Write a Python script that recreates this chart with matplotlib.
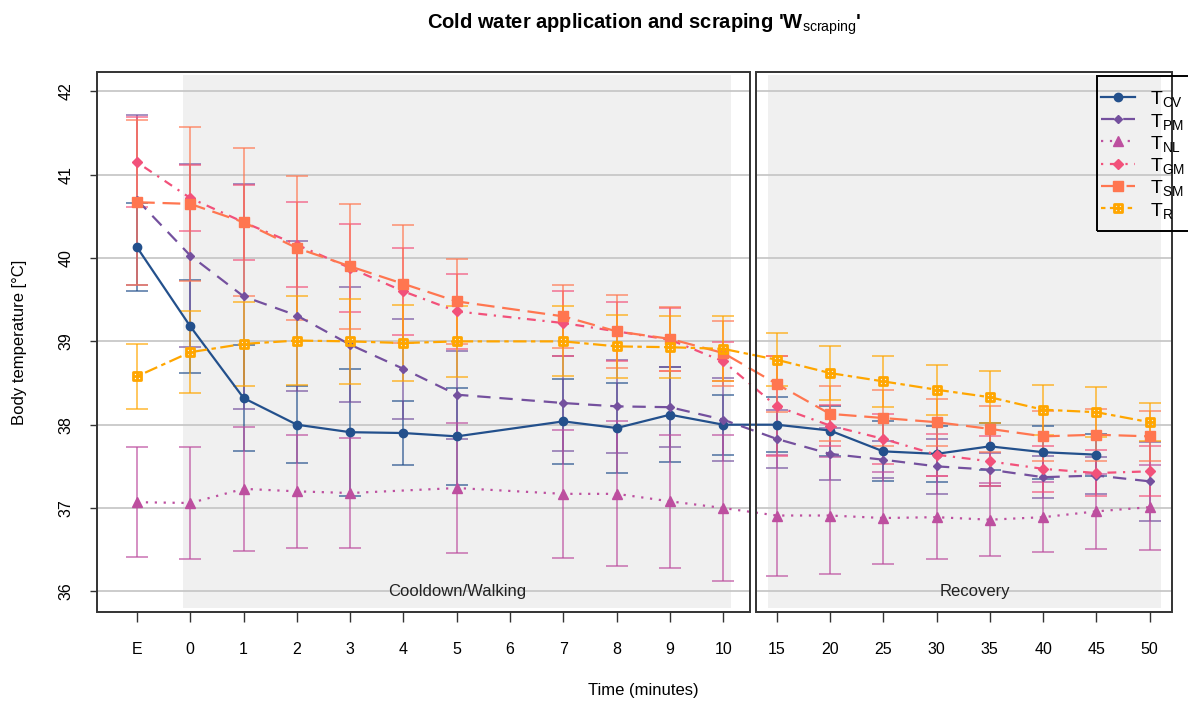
import numpy as np
import matplotlib
matplotlib.use('Agg')
import matplotlib.pyplot as plt
from matplotlib.path import Path
from matplotlib.patches import Rectangle
from matplotlib.lines import Line2D

plt.rcParams['font.family'] = ['Liberation Sans', 'DejaVu Sans']
plt.rcParams['mathtext.fontset'] = 'custom'
plt.rcParams['mathtext.rm'] = 'Liberation Sans'
plt.rcParams['mathtext.it'] = 'Liberation Sans'
plt.rcParams['mathtext.bf'] = 'Liberation Sans:bold'

nan = np.nan

# time points (categorical positions)
time_labels = ['E', '0', '1', '2', '3', '4', '5', '6', '7', '8', '9', '10',
               '15', '20', '25', '30', '35', '40', '45', '50']

# means and CI half widths per site
t_cv = [40.13, 39.18, 38.32, 38.00, 37.91, 37.90, 37.86, nan, 38.04, 37.96, 38.12, 38.00,
        38.00, 37.93, 37.68, 37.65, 37.74, 37.67, 37.64, nan]
e_cv = [0.53, 0.56, 0.64, 0.46, 0.76, 0.38, 0.58, nan, 0.51, 0.54, 0.57, 0.36,
        0.33, 0.30, 0.36, 0.34, 0.28, 0.32, 0.25, nan]

t_pm = [40.70, 40.03, 39.54, 39.31, 38.96, 38.67, 38.36, nan, 38.26, 38.22, 38.21, 38.06,
        37.83, 37.65, 37.58, 37.50, 37.46, 37.37, 37.39, 37.32]
e_pm = [1.02, 1.10, 1.35, 0.90, 0.69, 0.60, 0.53, nan, 0.57, 0.56, 0.48, 0.50,
        0.35, 0.31, 0.22, 0.33, 0.20, 0.25, 0.22, 0.47]

t_nl = [37.07, 37.06, 37.23, 37.20, 37.18, nan, 37.24, nan, 37.17, 37.17, 37.08, 37.00,
        36.91, 36.91, 36.88, 36.89, 36.86, 36.89, 36.96, 37.01]
e_nl = [0.66, 0.67, 0.74, 0.68, 0.66, nan, 0.78, nan, 0.77, 0.87, 0.80, 0.88,
        0.73, 0.70, 0.55, 0.50, 0.44, 0.42, 0.45, 0.51]

t_gm = [41.15, 40.72, 40.43, 40.16, 39.88, 39.60, 39.36, nan, 39.22, 39.12, 39.02, 38.76,
        38.22, 37.99, 37.83, 37.64, 37.56, 37.47, 37.42, 37.44]
e_gm = [0.54, 0.40, 0.45, 0.51, 0.53, 0.52, 0.45, nan, 0.39, 0.35, 0.38, 0.23,
        0.60, 0.25, 0.30, 0.25, 0.30, 0.28, 0.28, 0.30]

t_sm = [40.67, 40.65, 40.43, 40.12, 39.90, 39.69, 39.48, nan, 39.30, 39.12, 39.03, 38.86,
        38.49, 38.13, 38.08, 38.03, 37.95, 37.86, 37.88, 37.86]
e_sm = [0.99, 0.92, 0.89, 0.86, 0.75, 0.71, 0.51, nan, 0.38, 0.44, 0.38, 0.39,
        0.34, 0.33, 0.34, 0.28, 0.28, 0.30, 0.31, 0.30]

t_r = [38.58, 38.87, 38.97, 39.01, 39.00, 38.98, 39.00, nan, 39.00, 38.94, 38.93, 38.91,
       38.78, 38.62, 38.52, 38.42, 38.33, 38.18, 38.15, 38.03]
e_r = [0.39, 0.49, 0.50, 0.53, 0.51, 0.46, 0.43, nan, 0.42, 0.38, 0.37, 0.39,
       0.32, 0.32, 0.31, 0.30, 0.31, 0.30, 0.30, 0.23]

names = ['CV', 'PM', 'NL', 'GM', 'SM', 'R']
means = [t_cv, t_pm, t_nl, t_gm, t_sm, t_r]
errs = [e_cv, e_pm, e_nl, e_gm, e_sm, e_r]

# square with a plus inside (R pch 12)
box_plus = Path([(-1, -1), (1, -1), (1, 1), (-1, 1), (-1, -1), (0, -1), (0, 1), (-1, 0), (1, 0)],
                [Path.MOVETO, Path.LINETO, Path.LINETO, Path.LINETO, Path.CLOSEPOLY,
                 Path.MOVETO, Path.LINETO, Path.MOVETO, Path.LINETO])

colors = ['#23508c', '#74509e', '#bd4f9f', '#f2517a', '#ff7650', '#ffa600']
styles = ['-', (0, (6, 4)), (0, (1, 3)), (0, (1, 3, 4, 3)), (0, (8, 3.5)), (0, (2, 2, 6, 2))]
markers = ['o', 'D', '^', 'D', 's', box_plus]
msizes = [6, 4, 6.5, 5.5, 6.5, 5.5]

W, H = 1188, 705
fig = plt.figure(figsize=(W / 100, H / 100), dpi=100)
ax = fig.add_axes([97 / W, 1 - 612 / H, (1172 - 97) / W, (612 - 72) / H])

x0, x1 = -0.75, 19.418
y0, y1 = 35.752, 42.233
ax.set_xlim(x0, x1)
ax.set_ylim(y0, y1)
for s in ax.spines.values():
    s.set_visible(False)

# shaded phases
ax.add_patch(Rectangle((0.857, 35.804), 11.14 - 0.857, 42.199 - 35.804, fc='#f0f0f0', ec='none', zorder=0))
ax.add_patch(Rectangle((11.83, 35.804), 19.22 - 11.83, 42.199 - 35.804, fc='#f0f0f0', ec='none', zorder=0))

# grid lines inside each box
split_l, split_r = 11.50, 11.608
for g in range(36, 43):
    ax.plot([x0, split_l], [g, g], color='#c4c4c4', lw=1.2, zorder=0.5)
    ax.plot([split_r, x1], [g, g], color='#c4c4c4', lw=1.2, zorder=0.5)

# two framed panels
ax.add_patch(Rectangle((x0, y0), split_l - x0, y1 - y0, fill=False, ec='#333333', lw=1.4, clip_on=False, zorder=5))
ax.add_patch(Rectangle((split_r, y0), x1 - split_r, y1 - y0, fill=False, ec='#333333', lw=1.4, clip_on=False, zorder=5))

x = np.arange(len(time_labels))
for m, e, c in zip(means, errs, colors):
    m = np.array(m)
    e = np.array(e)
    ok = ~np.isnan(m)
    ax.errorbar(x[ok], m[ok], yerr=e[ok], fmt='none', ecolor=c, alpha=0.8,
                elinewidth=1.1, capsize=8, capthick=1.1, zorder=2)

for m, c, ls, mk, ms in zip(means, colors, styles, markers, msizes):
    m = np.array(m)
    ok = ~np.isnan(m)
    if mk is box_plus:
        ax.plot(x[ok], m[ok], color=c, ls=ls, lw=1.6, marker=mk, ms=ms, mfc='none',
                mec=c, mew=2, zorder=3)
    else:
        ax.plot(x[ok], m[ok], color=c, ls=ls, lw=1.6, marker=mk, ms=ms, mfc=c, mec=c, zorder=3)

ax.set_xticks(x)
ax.set_xticklabels(time_labels, fontsize=11.5)
ax.set_yticks(range(36, 43))
ax.set_yticklabels([str(v) for v in range(36, 43)], fontsize=11.5, rotation=90, va='center')
ax.tick_params(axis='x', length=7.5, width=1, color='#333333', pad=14)
ax.tick_params(axis='y', length=5, width=1, color='#333333', pad=12)

ax.text(6.0, 36.0, 'Cooldown/Walking', ha='center', va='center', fontsize=12, color='#222222', zorder=4)
ax.text(15.72, 36.0, 'Recovery', ha='center', va='center', fontsize=12, color='#222222', zorder=4)

fig.text(644 / W, 1 - 29 / H, r"Cold water application and scraping '$\mathbf{W}_{\mathrm{scraping}}$'",
         ha='center', va='baseline', fontsize=14.5, fontweight='bold')
fig.text(643 / W, 1 - 690 / H, 'Time (minutes)', ha='center', va='center', fontsize=12)
fig.text(20 / W, 1 - 342 / H, 'Body temperature [°C]', ha='center', va='center', rotation=90, fontsize=12)


# legend drawn by hand in figure pixels
def fx(px):
    return px / W


def fy(py):
    return 1 - py / H


fig.add_artist(Rectangle((fx(1096.7), fy(230.7)), fx(1200) - fx(1096.7), fy(75.7) - fy(230.7),
                         transform=fig.transFigure, fill=False, ec='black', lw=1.4))
rows = [96.7, 119, 141.3, 163.6, 186, 208.3]
for nm, c, ls, mk, ms, ry in zip(names, colors, styles, markers, msizes, rows):
    fig.add_artist(Line2D([fx(1101), fx(1135)], [fy(ry), fy(ry)], transform=fig.transFigure,
                          color=c, ls=ls, lw=1.6))
    if mk is box_plus:
        fig.add_artist(Line2D([fx(1118)], [fy(ry)], transform=fig.transFigure, marker=mk,
                              ms=ms, mfc='none', mec=c, mew=2, ls='none'))
    else:
        fig.add_artist(Line2D([fx(1118)], [fy(ry)], transform=fig.transFigure, marker=mk,
                              ms=ms, mfc=c, mec=c, ls='none'))
    fig.text(fx(1150), fy(ry + 7.5), r'$\mathrm{T}_{\mathrm{%s}}$' % nm, ha='left', va='baseline',
             fontsize=14)

fig.savefig('out.png', dpi=100)
